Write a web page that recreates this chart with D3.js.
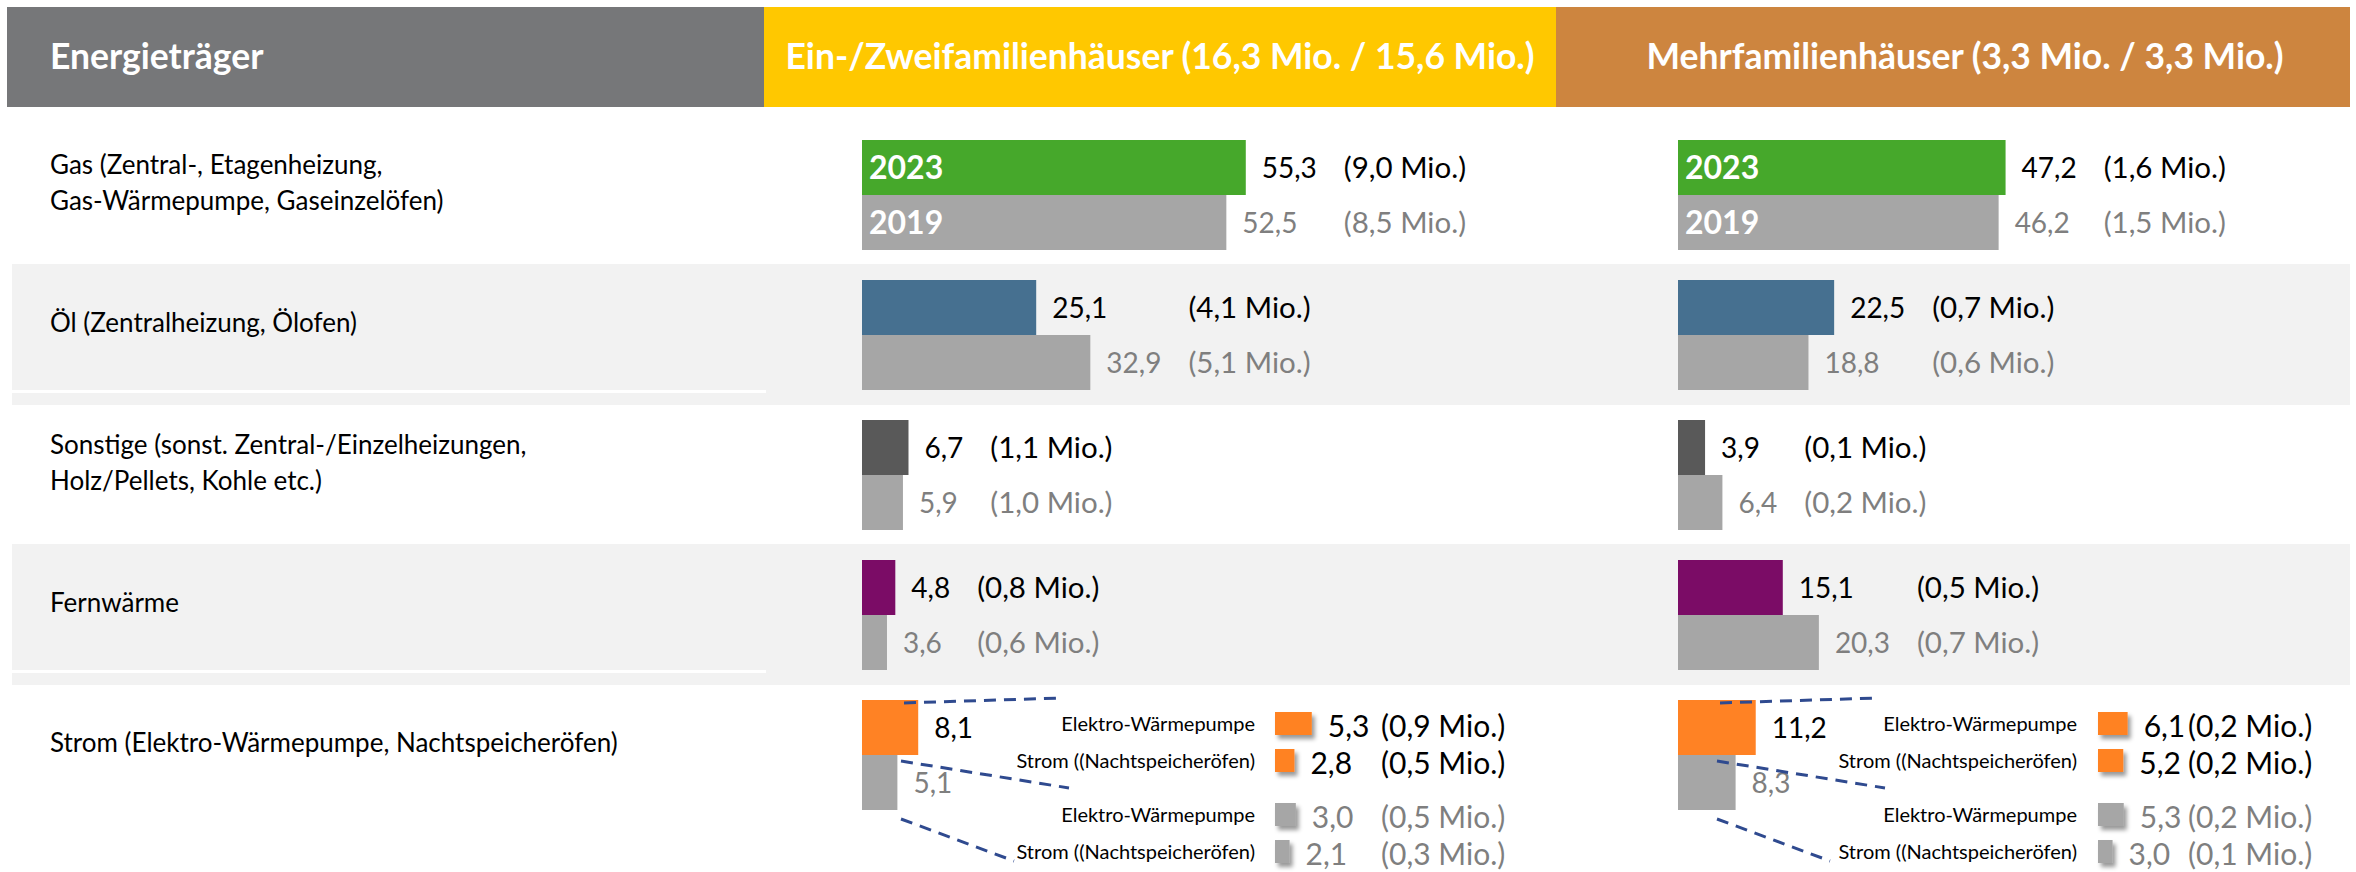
<!DOCTYPE html>
<html>
<head>
<meta charset="utf-8">
<script src="https://cdn.jsdelivr.net/npm/d3@7"></script>
<style>
  body { margin: 0; background: #fff; }
  text { font-family: Lato, "Open Sans", sans-serif; }
</style>
</head>
<body>
<div id="chart"></div>
<script>
var svgWidth = 2356;
var svgHeight = 872;

// ---- data ----
var headers = ["Energieträger", "Ein-/Zweifamilienhäuser (16,3 Mio. / 15,6 Mio.)", "Mehrfamilienhäuser (3,3 Mio. / 3,3 Mio.)"];
var carriers = ["Gas", "Oel", "Sonstige", "Fernwaerme", "Strom"];
var carrierLabels = [
  ["Gas (Zentral-, Etagenheizung,", "Gas-Wärmepumpe, Gaseinzelöfen)"],
  ["Öl (Zentralheizung, Ölofen)"],
  ["Sonstige (sonst. Zentral-/Einzelheizungen,", "Holz/Pellets, Kohle etc.)"],
  ["Fernwärme"],
  ["Strom (Elektro-Wärmepumpe, Nachtspeicheröfen)"]
];
var years = ["2023", "2019"];

// shares in % (Ein-/Zweifamilienhäuser)
var efh2023 = [55.3, 25.1, 6.7, 4.8, 8.1];
var efh2019 = [52.5, 32.9, 5.9, 3.6, 5.1];
var efhMio2023 = [9.0, 4.1, 1.1, 0.8, null];
var efhMio2019 = [8.5, 5.1, 1.0, 0.6, null];

// shares in % (Mehrfamilienhäuser)
var mfh2023 = [47.2, 22.5, 3.9, 15.1, 11.2];
var mfh2019 = [46.2, 18.8, 6.4, 20.3, 8.3];
var mfhMio2023 = [1.6, 0.7, 0.1, 0.5, null];
var mfhMio2019 = [1.5, 0.6, 0.2, 0.7, null];

// Strom split
var stromParts = ["Elektro-Wärmepumpe", "Strom ((Nachtspeicheröfen)"];
var efhStrom2023 = [5.3, 2.8];
var efhStromMio2023 = [0.9, 0.5];
var efhStrom2019 = [3.0, 2.1];
var efhStromMio2019 = [0.5, 0.3];
var mfhStrom2023 = [6.1, 5.2];
var mfhStromMio2023 = [0.2, 0.2];
var mfhStrom2019 = [5.3, 3.0];
var mfhStromMio2019 = [0.2, 0.1];

var carrierColors = ["#46a82b", "#467090", "#595959", "#7b0c66", "#ff8224"];
var color2019 = "#a6a6a6";
var headerColors = ["#767779", "#ffc800", "#cd853f"];

// ---- layout ----
var locale = d3.formatLocale({decimal: ",", thousands: ".", grouping: [3], currency: ["", " €"]});
var fmt = locale.format(".1f");

var svg = d3.select("#chart").append("svg")
  .attr("width", svgWidth)
  .attr("height", svgHeight);

var defs = svg.append("defs");
defs.append("filter").attr("id", "shadow")
  .attr("x", "-50%").attr("y", "-50%").attr("width", "220%").attr("height", "220%")
  .append("feDropShadow")
  .attr("dx", 3).attr("dy", 4).attr("stdDeviation", 2)
  .attr("flood-color", "#000").attr("flood-opacity", 0.4);

// one band per energy carrier
var yBand = d3.scaleBand().domain(carriers).range([124, 824]);
var xScale = d3.scaleLinear().domain([0, 100]).range([0, 694]);
var barH = 55;

// panels: main bar origin, split-label right edge, split-bar origin, mio column, split scale factor
var panels = [
  {x0: 862, v23: efh2023, v19: efh2019, m23: efhMio2023, m19: efhMio2019,
   s23: efhStrom2023, s19: efhStrom2019, sm23: efhStromMio2023, sm19: efhStromMio2019,
   labelRight: 1255, splitX: 1275, splitMio: 1381, k: 1},
  {x0: 1678, v23: mfh2023, v19: mfh2019, m23: mfhMio2023, m19: mfhMio2019,
   s23: mfhStrom2023, s19: mfhStrom2019, sm23: mfhStromMio2023, sm19: mfhStromMio2019,
   labelRight: 2077, splitX: 2098, splitMio: 2188, k: 0.7}
];

// row backgrounds
["Oel", "Fernwaerme"].forEach(function(c) {
  svg.append("rect")
    .attr("x", 12).attr("y", yBand(c))
    .attr("width", 2338).attr("height", yBand.step() + 1)
    .attr("fill", "#f2f2f2");
  svg.append("rect")
    .attr("x", 12).attr("y", yBand(c) + 126)
    .attr("width", 754).attr("height", 3)
    .attr("fill", "#ffffff");
});

// header
var headerX = [7, 764, 1556, 2350];
var headerShift = [0, 0, 12];
headers.forEach(function(h, i) {
  svg.append("rect")
    .attr("x", headerX[i]).attr("y", 7)
    .attr("width", headerX[i + 1] - headerX[i]).attr("height", 100)
    .attr("fill", headerColors[i]);
  svg.append("text")
    .attr("x", i === 0 ? 50 : (headerX[i] + headerX[i + 1]) / 2 + headerShift[i])
    .attr("y", 57)
    .attr("dy", "0.35em")
    .attr("text-anchor", i === 0 ? "start" : "middle")
    .style("font-size", "35.5px")
    .style("font-weight", "bold")
    .attr("fill", "#fff")
    .text(h);
});

// row labels
carriers.forEach(function(c, i) {
  var lines = carrierLabels[i];
  lines.forEach(function(line, j) {
    svg.append("text")
      .attr("x", 50)
      .attr("y", yBand(c) + 59 + (j - (lines.length - 1) / 2) * 36)
      .attr("dy", "0.35em")
      .style("font-size", "26px")
      .attr("fill", "#000")
      .text(line);
  });
});

// main bars
panels.forEach(function(p) {
  var g = svg.append("g").attr("transform", `translate(${p.x0}, 0)`);

  carriers.forEach(function(c, i) {
    var top = yBand(c) + 16;
    var rows = [
      {val: p.v23[i], mio: p.m23[i], fill: carrierColors[i], txt: "#000", y: top},
      {val: p.v19[i], mio: p.m19[i], fill: color2019, txt: "#7f7f7f", y: top + barH}
    ];
    var labelEnd = 0;

    rows.forEach(function(r, j) {
      g.append("rect")
        .attr("x", 0).attr("y", r.y)
        .attr("width", xScale(r.val)).attr("height", barH)
        .attr("fill", r.fill);

      if (c === "Gas") {
        g.append("text")
          .attr("x", 7).attr("y", r.y + barH / 2)
          .attr("dy", "0.36em")
          .style("font-size", "32px").style("font-weight", "bold")
          .attr("fill", "#fff")
          .text(years[j]);
      }

      var t = g.append("text")
        .attr("x", xScale(r.val) + 16).attr("y", r.y + barH / 2)
        .attr("dy", "0.36em")
        .style("font-size", "28px")
        .attr("fill", r.txt)
        .text(fmt(r.val));
      labelEnd = Math.max(labelEnd, xScale(r.val) + 16 + t.node().getComputedTextLength());
    });

    // (x,x Mio.) column
    rows.forEach(function(r) {
      if (r.mio === null) return;
      g.append("text")
        .attr("x", labelEnd + 27).attr("y", r.y + barH / 2)
        .attr("dy", "0.36em")
        .style("font-size", "29.5px")
        .attr("fill", r.txt)
        .text("(" + fmt(r.mio) + " Mio.)");
    });
  });

  // Strom split
  var sTop = yBand("Strom");
  var splitRows = [
    {val: p.s23[0], mio: p.sm23[0], part: stromParts[0], fill: carrierColors[4], txt: "#000", off: 28},
    {val: p.s23[1], mio: p.sm23[1], part: stromParts[1], fill: carrierColors[4], txt: "#000", off: 65},
    {val: p.s19[0], mio: p.sm19[0], part: stromParts[0], fill: color2019, txt: "#7f7f7f", off: 119},
    {val: p.s19[1], mio: p.sm19[1], part: stromParts[1], fill: color2019, txt: "#7f7f7f", off: 156}
  ];
  var splitH = 23;

  // dashed connectors
  var connectors = [
    [42, 19, 201, 14],
    [39, 77, 207, 104],
    [39, 135, 152, 177]
  ];
  connectors.forEach(function(d) {
    svg.append("line")
      .attr("x1", p.x0 + d[0]).attr("y1", sTop + d[1])
      .attr("x2", p.x0 + d[2]).attr("y2", sTop + d[3])
      .attr("stroke", "#2f4a8f")
      .attr("stroke-width", 3)
      .attr("stroke-dasharray", "12,8");
  });

  splitRows.forEach(function(r) {
    var cy = sTop + r.off + splitH / 2;
    svg.append("text")
      .attr("x", p.labelRight).attr("y", cy)
      .attr("dy", "0.35em")
      .attr("text-anchor", "end")
      .style("font-size", "20px")
      .attr("fill", "#000")
      .text(r.part);
    svg.append("rect")
      .attr("x", p.splitX).attr("y", sTop + r.off)
      .attr("width", xScale(r.val) * p.k).attr("height", splitH)
      .attr("fill", r.fill)
      .attr("filter", "url(#shadow)");
    svg.append("text")
      .attr("x", p.splitX + xScale(r.val) * p.k + 16).attr("y", cy + 3)
      .attr("dy", "0.36em")
      .style("font-size", "30px")
      .attr("fill", r.txt)
      .text(fmt(r.val));
    svg.append("text")
      .attr("x", p.splitMio).attr("y", cy + 3)
      .attr("dy", "0.36em")
      .style("font-size", "30px")
      .attr("fill", r.txt)
      .text("(" + fmt(r.mio) + " Mio.)");
  });
});
</script>
</body>
</html>
